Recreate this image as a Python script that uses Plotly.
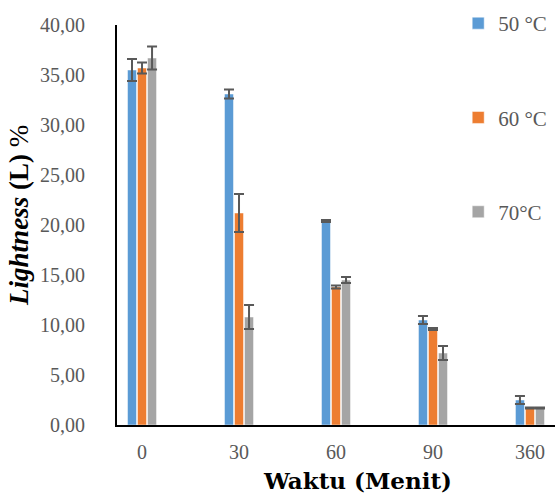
import plotly.graph_objects as go

categories = ["0", "30", "60", "90", "360"]
series_names = ["50 °C", "60 °C", "70°C"]
values_50 = [35.5, 33.1, 20.4, 10.5, 2.5]
values_60 = [35.7, 21.2, 13.8, 9.6, 1.7]
values_70 = [36.7, 10.8, 14.5, 7.2, 1.7]
err_50 = [1.1, 0.45, 0.1, 0.4, 0.4]
err_60 = [0.55, 1.9, 0.15, 0.1, 0.05]
err_70 = [1.15, 1.2, 0.3, 0.7, 0.05]
colors = ["#5B9BD5", "#ED7D31", "#A5A5A5"]
x_title = "<b>Waktu (Menit)</b>"
y_title = "<b><i>Lightness</i> (L) </b>%"

serif = "Liberation Serif"
fig = go.Figure()
for name, vals, errs, col in zip(series_names, [values_50, values_60, values_70],
                                  [err_50, err_60, err_70], colors):
    fig.add_trace(go.Bar(
        x=categories, y=vals, name=name, legendgroup=name,
        marker=dict(color=col, line=dict(color="white", width=0.5)),
        error_y=dict(type="data", array=errs, visible=True,
                     color="#595959", thickness=2, width=5),
    ))

fig.update_layout(
    width=555, height=494,
    margin=dict(l=117, r=0, t=25, b=69, autoexpand=False),
    paper_bgcolor="white", plot_bgcolor="white",
    separators=",.",
    barmode="group", bargap=0.69, bargroupgap=0.1,
    font=dict(family=serif, color="#595959", size=18),
    showlegend=True,
    legend=dict(x=0.779, y=1.055, xanchor="left", yanchor="top",
                font=dict(family=serif, size=21, color="#595959"),
                tracegroupgap=64, traceorder="grouped",
                bgcolor="rgba(0,0,0,0)", itemclick=False),
    xaxis=dict(type="category", range=[-0.258, 4.258], automargin=False,
               showline=True, linecolor="black", linewidth=2,
               showgrid=False, ticks="", ticklabelstandoff=8,
               tickfont=dict(family=serif, size=20, color="#595959")),
    yaxis=dict(range=[0, 40], dtick=5, tickformat=".2f", automargin=False,
               showline=True, linecolor="black", linewidth=2,
               showgrid=False, zeroline=False, ticks="", ticklabelstandoff=26,
               tickfont=dict(family=serif, size=20, color="#595959")),
    annotations=[
        dict(text=x_title, xref="paper", yref="paper", x=0.550, y=-0.138,
             xanchor="center", yanchor="middle", showarrow=False,
             font=dict(family="DejaVu Serif", size=23, color="black")),
        dict(text=y_title, xref="paper", yref="paper", x=-0.224, y=0.525,
             xanchor="center", yanchor="middle", showarrow=False, textangle=-90,
             font=dict(family=serif, size=27, color="black")),
    ],
)

fig.write_html("out.html", config={"displayModeBar": False},
               post_script="document.body.style.margin='0';document.body.style.overflow='hidden';")
